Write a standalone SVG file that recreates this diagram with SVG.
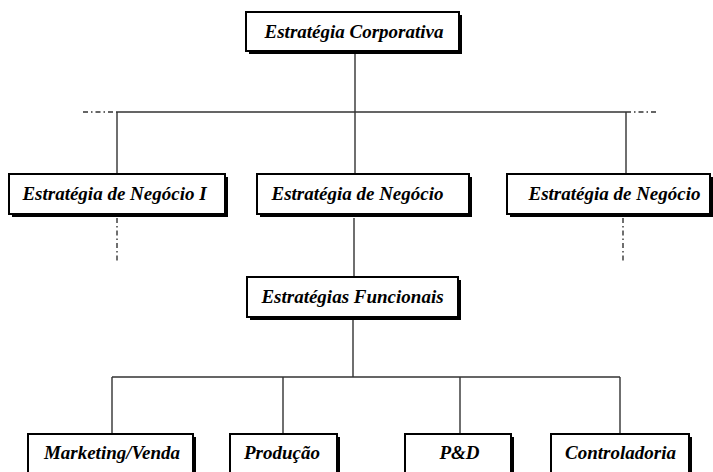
<svg xmlns="http://www.w3.org/2000/svg" width="713" height="472" viewBox="0 0 713 472">
  <style>
    .box { fill: #fff; stroke: #000; stroke-width: 2; }
    .shadow { fill: #000; }
    .label { font-family: "Liberation Serif", "Times New Roman", serif; font-size: 19px; font-weight: bold; font-style: italic; fill: #000; text-anchor: middle; }
    .link { fill: none; stroke: #333; stroke-width: 1.4; }
    .link.open { stroke-dasharray: 5 3 1.5 3; }
  </style>
  <rect width="713" height="472" fill="#fff"/>

  <!-- connectors -->
  <g id="connectors">
    <path class="link" d="M355 54V112M117 112H626M117 112V173M355 112V173M626 112V173"/>
    <path class="link open" d="M83 112H117M626 112H658M117 218V262M623 218V262"/>
    <path class="link" d="M354 218V277M353 320V377M112 377H620M112 377V433M283 377V433M460 377V433M620 377V433"/>
  </g>

  <!-- corporate level -->
  <g id="corporativa">
    <rect class="shadow" x="249" y="15" width="213" height="39"/>
    <rect class="box" x="246" y="12" width="213" height="39"/>
    <text class="label" x="354" y="38">Estratégia Corporativa</text>
  </g>

  <!-- business units -->
  <g id="negocio-1">
    <rect class="shadow" x="12" y="177" width="216" height="40"/>
    <rect class="box" x="9" y="174" width="216" height="40"/>
    <text class="label" x="114.5" y="200">Estratégia de Negócio I</text>
  </g>
  <g id="negocio-2">
    <rect class="shadow" x="260" y="177" width="212" height="40"/>
    <rect class="box" x="257" y="174" width="212" height="40"/>
    <text class="label" x="357.5" y="200">Estratégia de Negócio</text>
  </g>
  <g id="negocio-3">
    <rect class="shadow" x="510" y="177" width="203" height="40"/>
    <rect class="box" x="507" y="174" width="203" height="40"/>
    <text class="label" x="614.5" y="200">Estratégia de Negócio</text>
  </g>

  <!-- functional level -->
  <g id="funcionais">
    <rect class="shadow" x="250" y="280" width="211" height="40"/>
    <rect class="box" x="247" y="277" width="211" height="40"/>
    <text class="label" x="352.5" y="303">Estratégias Funcionais</text>
  </g>

  <!-- functions -->
  <g id="marketing">
    <rect class="shadow" x="31" y="437" width="165" height="50"/>
    <rect class="box" x="28" y="434" width="165" height="50"/>
    <text class="label" x="112" y="459">Marketing/Venda</text>
  </g>
  <g id="producao">
    <rect class="shadow" x="233" y="437" width="107" height="50"/>
    <rect class="box" x="230" y="434" width="107" height="50"/>
    <text class="label" x="282" y="459">Produção</text>
  </g>
  <g id="pd">
    <rect class="shadow" x="408" y="437" width="106" height="50"/>
    <rect class="box" x="405" y="434" width="106" height="50"/>
    <text class="label" x="459.5" y="459">P&amp;D</text>
  </g>
  <g id="controladoria">
    <rect class="shadow" x="554" y="437" width="138" height="50"/>
    <rect class="box" x="551" y="434" width="138" height="50"/>
    <text class="label" x="620.5" y="459">Controladoria</text>
  </g>
</svg>
